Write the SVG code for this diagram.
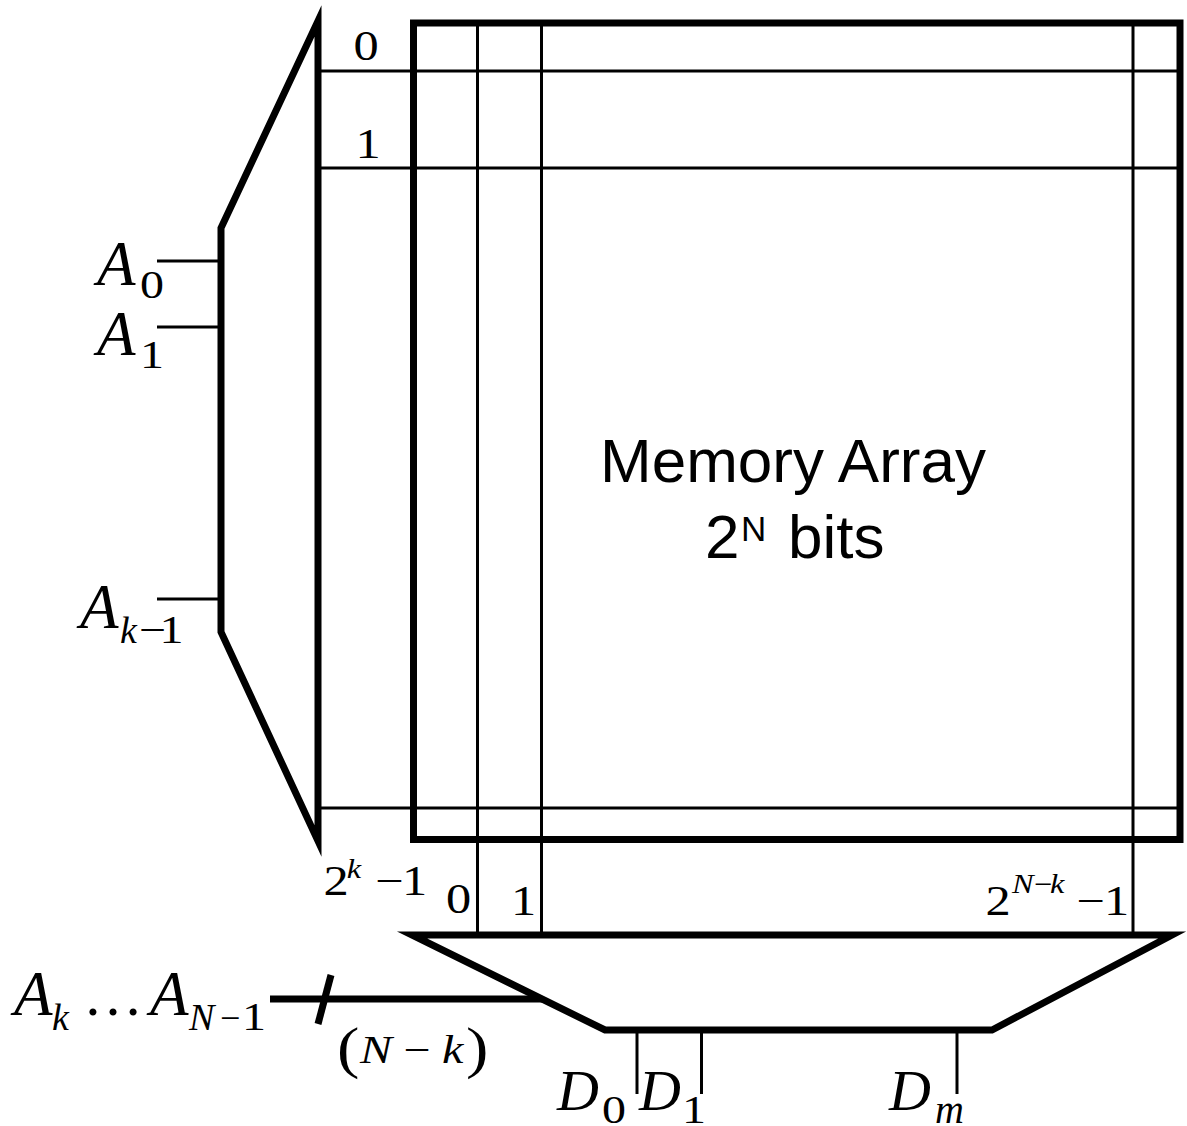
<svg xmlns="http://www.w3.org/2000/svg" width="1187" height="1126" viewBox="0 0 1187 1126">
<style>
.thick{fill:none;stroke:#000;stroke-width:7;stroke-linejoin:miter;stroke-miterlimit:10}
.thin{fill:none;stroke:#000;stroke-width:3}
.bus{fill:none;stroke:#000;stroke-width:7}
.i{font-style:italic}
.big{font-size:63px}
.dd{font-size:58px}
.num{font-size:42px}
.sub{font-size:40px}
.lsub{font-size:38px}
.sup{font-size:27px}
</style>
<rect width="1187" height="1126" fill="#fff"/>
<g id="connectors">
  <line class="thin" x1="157" y1="261" x2="221" y2="261"/>
  <line class="thin" x1="157" y1="327" x2="221" y2="327"/>
  <line class="thin" x1="157" y1="599" x2="221" y2="599"/>
  <line class="thin" x1="318" y1="71" x2="1180" y2="71"/>
  <line class="thin" x1="318" y1="168" x2="1180" y2="168"/>
  <line class="thin" x1="318" y1="808" x2="1180" y2="808"/>
  <line class="thin" x1="477.5" y1="23" x2="477.5" y2="935"/>
  <line class="thin" x1="541.5" y1="23" x2="541.5" y2="935"/>
  <line class="thin" x1="1133" y1="23" x2="1133" y2="935"/>
  <line class="thin" x1="637" y1="1030" x2="637" y2="1094"/>
  <line class="thin" x1="701.5" y1="1030" x2="701.5" y2="1094"/>
  <line class="thin" x1="957" y1="1030" x2="957" y2="1094"/>
  <line class="bus" x1="270" y1="999" x2="542" y2="999"/>
  <line class="bus" x1="331" y1="975" x2="318" y2="1024"/>
</g>
<g id="row-decoder">
  <polygon class="thick" points="318,21 221,228 221,632 318,841"/>
</g>
<g id="memory-array">
  <rect class="thick" x="413.5" y="23" width="766.5" height="816.5"/>
  <g font-family="Liberation Sans, Arial, sans-serif" fill="#000">
    <text x="793" y="482" font-size="62" text-anchor="middle">Memory Array</text>
    <text y="558" font-size="62"><tspan x="705">2</tspan><tspan x="741" dy="-17" font-size="35">N</tspan><tspan x="788" dy="17">bits</tspan></text>
  </g>
</g>
<g id="column-mux">
  <polygon class="thick" points="412,935 1172,935 992,1030 605,1030"/>
</g>
<g id="labels" font-family="Liberation Serif, Times New Roman, serif" fill="#000" transform="scale(1.2,1)">
  <text class="num" x="305" y="60" text-anchor="middle">0</text>
  <text class="num" x="306.7" y="158" text-anchor="middle">1</text>
  <text class="num" y="895"><tspan x="269.5">2</tspan><tspan class="i sup" x="289" y="878">k</tspan><tspan x="312.8" y="895">−</tspan><tspan x="335">1</tspan></text>
  <text class="num" x="371.7" y="913">0</text>
  <text class="num" x="425.8" y="915">1</text>
  <text class="num" y="915"><tspan x="821.2">2</tspan><tspan class="i sup" x="843.3" y="893">N</tspan><tspan class="sup" x="861.7" y="893">−</tspan><tspan class="i sup" x="875" y="893">k</tspan><tspan x="897" y="915">−</tspan><tspan x="920">1</tspan></text>
  <text class="sub" x="116.7" y="298">0</text>
  <text class="sub" x="116.7" y="368">1</text>
  <text class="sub" y="643"><tspan x="115.8">−</tspan><tspan x="133">1</tspan></text>
  <text class="sub" x="201.7" y="1030">1</text>
  <text class="sub" y="1063"><tspan x="280.8" y="1067" font-size="56">(</tspan><tspan class="i" x="300" y="1063">N</tspan><tspan x="336.3">−</tspan><tspan class="i" x="368.3">k</tspan><tspan x="388.3" y="1067" font-size="56">)</tspan></text>
  <text class="sub" x="501.7" y="1123">0</text>
  <text class="sub" x="568.3" y="1123">1</text>
</g>
<g id="labels-italic" font-family="Liberation Serif, Times New Roman, serif" fill="#000">
  <text class="i big" x="97" y="285">A</text>
  <text class="i big" x="97" y="355">A</text>
  <text class="i big" x="80" y="628">A</text>
  <text class="i lsub" x="120" y="643">k</text>
  <text class="i big" x="14" y="1015">A</text>
  <text class="i lsub" x="52" y="1030">k</text>
  <text font-size="60" x="83" y="1015">…</text>
  <text class="i big" x="150" y="1015">A</text>
  <text class="i lsub" x="189" y="1030">N</text>
  <text font-size="36" x="220" y="1030">−</text>
  <text class="i dd" x="557" y="1110">D</text>
  <text class="i dd" x="639" y="1110">D</text>
  <text class="i dd" x="889" y="1110">D</text>
  <text class="i sub" x="935" y="1123">m</text>
</g>
</svg>
